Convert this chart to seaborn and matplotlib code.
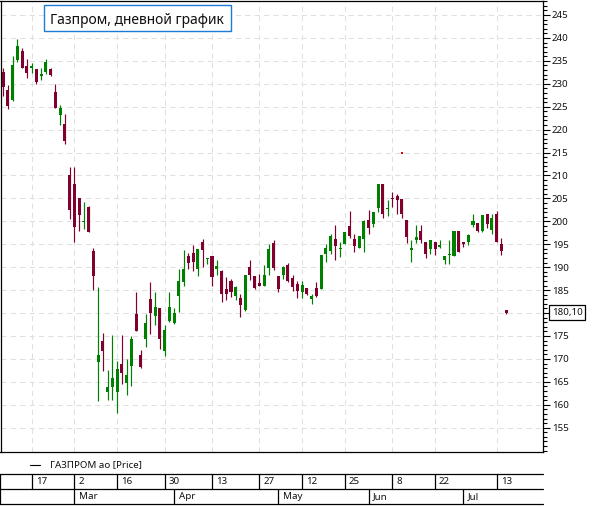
import numpy as np
import pandas as pd
import matplotlib
matplotlib.use("Agg")
import matplotlib.pyplot as plt
import seaborn as sns
from matplotlib.lines import Line2D
from matplotlib.patches import Rectangle
from matplotlib.ticker import MultipleLocator, FuncFormatter

# ---------------- data ----------------
start_date = "2020-02-07"
end_date = "2020-07-15"
holidays = ["2020-02-24", "2020-03-09", "2020-05-01", "2020-05-11",
            "2020-06-12", "2020-06-24", "2020-07-01"]

open_ = [232.6, 228.6, 226.4, 235.2, 237.1, 233.9, 233.5, 233.2, 231.7, 232.5,
         233.2, 228.2, 223.2, 221.2, 210.0, 208.1, 205.0, 199.8, 203.1, 193.5,
         169.3, 174.0, 162.7, 163.8, 162.7, 168.9, 164.7, 168.4, 179.8, 170.9,
         174.3, 183.0, 179.3, 181.1, 171.7, 178.2, 177.8, 183.7, 186.8, 192.4,
         193.1, 189.7, 195.6, 191.8, 192.4, 189.5, 189.15, 185.15, 187.1, 183.8,
         183.2, 180.7, 190.0, 188.0, 186.5, 185.8, 189.8, 195.3, 188.0, 188.2,
         190.5, 187.6, 186.4, 184.7, 185.5, 183.0, 185.5, 185.3, 192.8, 193.5,
         196.07, 193.96, 194.98, 198.9, 196.07, 194.2, 196.07, 200.2, 199.5, 202.9,
         208.1, 202.7, 205.0, 205.5, 204.8, 200.2, 193.7, 195.85, 198.0, 195.4,
         194.0, 195.5, 194.5, 191.6, 192.7, 192.35, 198.0, 195.5, 195.5, 199.1,
         199.7, 197.8, 201.5, 198.2, 201.7, 195.0, 180.6]
high = [233.4, 229.7, 236.0, 239.8, 237.9, 235.3, 234.6, 233.2, 233.5, 235.5,
        233.5, 229.9, 225.3, 223.4, 211.9, 211.9, 205.0, 204.2, 203.35, 194.1,
        185.6, 175.6, 167.5, 175.2, 169.6, 175.2, 170.0, 174.9, 184.5, 172.0,
        179.7, 186.7, 184.7, 181.1, 177.3, 184.5, 181.1, 189.7, 193.7, 193.2,
        194.9, 194.0, 196.1, 192.1, 192.4, 191.5, 189.3, 187.85, 187.5, 186.0,
        184.05, 188.4, 191.5, 188.0, 188.6, 190.4, 195.0, 195.85, 188.0, 190.2,
        190.9, 188.2, 186.9, 186.9, 185.5, 184.2, 186.75, 192.6, 195.0, 197.16,
        199.1, 195.6, 197.6, 202.2, 197.2, 196.9, 200.2, 202.4, 202.0, 208.1,
        208.1, 204.6, 206.3, 205.9, 204.8, 200.2, 195.9, 199.3, 199.1, 195.5,
        195.85, 195.5, 196.0, 192.35, 195.85, 198.0, 198.0, 195.6, 197.3, 201.5,
        199.7, 201.3, 201.7, 201.5, 202.2, 196.4, 180.7]
low = [227.4, 224.5, 226.2, 234.8, 233.5, 231.2, 232.3, 229.9, 230.8, 232.1,
       231.7, 224.8, 221.0, 216.9, 200.6, 195.6, 198.0, 198.3, 197.6, 185.1,
       160.9, 167.3, 161.1, 161.1, 158.1, 164.5, 162.1, 164.0, 176.0, 168.0,
       172.6, 175.4, 177.4, 172.1, 170.6, 178.0, 177.6, 180.2, 185.9, 189.7,
       189.1, 188.1, 190.0, 190.8, 186.0, 188.2, 182.5, 182.75, 183.6, 182.9,
       179.1, 180.4, 187.3, 185.15, 185.8, 185.8, 188.4, 189.3, 184.6, 187.4,
       186.7, 184.9, 183.3, 183.3, 184.0, 181.9, 183.6, 185.15, 191.2, 192.9,
       191.5, 192.2, 194.98, 196.4, 193.3, 194.2, 193.3, 197.3, 198.8, 202.0,
       200.7, 201.2, 203.1, 201.7, 200.7, 195.3, 191.1, 195.3, 195.3, 192.0,
       192.8, 192.7, 194.25, 190.75, 190.75, 192.35, 193.3, 194.4, 194.8, 198.8,
       197.7, 197.7, 198.5, 197.2, 195.5, 192.6, 179.9]
close = [229.2, 225.2, 234.1, 238.2, 233.5, 232.4, 233.9, 230.4, 232.1, 234.7,
         231.9, 224.8, 224.8, 217.5, 202.4, 198.8, 201.4, 200.0, 197.7, 188.0,
         170.9, 171.8, 163.8, 165.9, 167.9, 166.9, 166.4, 174.4, 176.0, 168.2,
         177.9, 180.0, 181.4, 174.3, 176.4, 181.4, 180.1, 187.1, 189.7, 190.9,
         191.1, 194.0, 193.8, 191.95, 187.8, 190.2, 184.2, 184.05, 184.6, 185.6,
         181.65, 188.4, 188.4, 185.5, 186.0, 188.35, 193.9, 189.8, 185.3, 190.0,
         186.9, 185.7, 184.8, 186.2, 184.2, 183.8, 183.7, 192.6, 194.25, 196.7,
         194.6, 194.25, 197.6, 196.7, 194.6, 196.9, 200.0, 198.5, 202.0, 208.1,
         201.5, 203.0, 204.9, 204.6, 201.7, 196.6, 194.25, 196.6, 195.85, 192.9,
         195.85, 194.0, 194.7, 192.35, 192.9, 198.0, 193.3, 195.0, 197.1, 200.0,
         197.9, 201.3, 199.35, 200.8, 195.5, 193.5, 180.1]

day_tick_dates = ["2020-02-17", "2020-03-02", "2020-03-16", "2020-03-30",
                  "2020-04-13", "2020-04-27", "2020-05-12", "2020-05-25",
                  "2020-06-08", "2020-06-22", "2020-07-13"]
month_names = ["Mar", "Apr", "May", "Jun", "Jul"]
title_text = "Газпром, дневной график"
legend_text = "ГАЗПРОМ ао [Price]"
last_price_label = "180,10"
stray_date = "2020-06-10"
stray_price = 215.0

# ---------------- build frame ----------------
dates = pd.bdate_range(start_date, end_date)
dates = dates[~dates.isin(pd.to_datetime(holidays))]
df = pd.DataFrame({"date": dates, "open": open_, "high": high,
                   "low": low, "close": close})
df["idx"] = np.arange(len(df))
df["up"] = df["close"] >= df["open"]
UP, DOWN = "#008000", "#800030"
df["color"] = np.where(df["up"], UP, DOWN)

date_to_idx = {d: i for i, d in enumerate(df["date"])}
day_idx = [date_to_idx[pd.Timestamp(d)] for d in day_tick_dates]
day_lbl = [str(pd.Timestamp(d).day) for d in day_tick_dates]
mstarts = df.groupby(df["date"].dt.to_period("M"))["idx"].min()
month_idx = list(mstarts.values[1:])

# ---------------- figure ----------------
sns.set_theme(style="white")
plt.rcParams["font.family"] = ["Noto Sans", "DejaVu Sans"]

W, H = 593, 507
fig = plt.figure(figsize=(W / 100, H / 100), dpi=100)
fig.patch.set_facecolor("white")

def fx(px):
    return px / W

def fy(py):
    return 1 - py / H

left_px, right_px, top_px, bot_px = 0.5, 543.3, 0.5, 452.3
ax = fig.add_axes([fx(left_px), fy(bot_px), (right_px - left_px) / W,
                   (bot_px - top_px) / H])
ax.set_facecolor("white")

ppx = 4.745
x0px = 3.23
xlim = ((left_px - x0px) / ppx, (right_px - x0px) / ppx)
ppy = 4.586
ylim = (155 - (bot_px - 427.7) / ppy, 245 + (15 - top_px) / ppy)
ax.set_xlim(*xlim)
ax.set_ylim(*ylim)

# grid
grid_kw = dict(color="#e0e0e0", lw=0.75, ls=(0, (5, 4)), zorder=0.5)
for v in range(155, 246, 5):
    ax.axhline(v, **grid_kw)
for i in day_idx:
    ax.axvline(i, **grid_kw)

# candles
body_bottom = np.minimum(df["open"], df["close"])
body_h = np.maximum(np.abs(df["close"] - df["open"]), 0.24)
ax.vlines(df["idx"], df["low"], df["high"], colors=df["color"], lw=0.85, zorder=2)
ax.bar(df["idx"], body_h, bottom=body_bottom, width=0.64, color=df["color"],
       linewidth=0, zorder=3)

# stray tick mark
ax.scatter([date_to_idx[pd.Timestamp(stray_date)]], [stray_price], s=0.6,
           color="#e00000", marker="s", linewidths=0, zorder=3)

# axes styling
for s in ax.spines.values():
    s.set_visible(True)
    s.set_color("black")
    s.set_linewidth(0.9)
ax.set_xticks([])
ax.yaxis.tick_right()
ax.set_yticks(range(155, 246, 5))
ax.yaxis.set_minor_locator(MultipleLocator(1))
ax.yaxis.set_major_formatter(FuncFormatter(lambda v, p: "" if abs(v - 180) < 1e-6 else f"{v:.0f}"))
ax.tick_params(axis="y", which="major", direction="out", length=5, width=0.8,
               color="black", labelsize=7, pad=1.2, labelcolor="#111111",
               right=True, left=False)
ax.tick_params(axis="y", which="minor", direction="out", length=2.9, width=0.8,
               color="black", right=True, left=False)

# last price label
ax.annotate(last_price_label, xy=(1, close[-1]), xycoords=ax.get_yaxis_transform(),
            xytext=(6.2, 0), textcoords="offset points", ha="left", va="center",
            fontsize=7, color="#111111", annotation_clip=False, zorder=10,
            bbox=dict(boxstyle="square,pad=0.28", fc="white", ec="black", lw=0.9))

# title box
fig.add_artist(Rectangle((fx(44.3), fy(30.8)), (230.7 - 44.3) / W, 25.3 / H,
                         transform=fig.transFigure, fc="white", ec="#1e7ad8",
                         lw=1.0, zorder=5))
fig.text(fx(50), fy(24.2), title_text, fontsize=10, ha="left", va="baseline",
         color="#111111", zorder=6)

# legend
fig.add_artist(Line2D([fx(30), fx(39.5)], [fy(465), fy(465)], color="black",
                      lw=0.8, transform=fig.transFigure))
fig.text(fx(50), fy(465), legend_text, fontsize=7, ha="left", va="center",
         color="#111111")

# date table
tax = fig.add_axes([fx(left_px), fy(504.3), (right_px - left_px) / W,
                    (504.3 - 474) / H])
tax.set_xlim(*xlim)
tax.set_ylim(0, 2)
tax.axis("off")
line_kw = dict(color="black", lw=0.9, clip_on=False)
for yv in (0, 1, 2):
    tax.plot([xlim[0], xlim[1]], [yv, yv], **line_kw)
tax.plot([xlim[0], xlim[0]], [0, 2], **line_kw)
for i, lbl in zip(day_idx, day_lbl):
    tax.plot([i, i], [1, 2], **line_kw)
    tax.annotate(lbl, xy=(i, 1.5), xytext=(2.9, 0), textcoords="offset points",
                 ha="left", va="center", fontsize=7, color="#111111")
for i, lbl in zip(month_idx, month_names):
    tax.plot([i, i], [0, 1], **line_kw)
    tax.annotate(lbl, xy=(i, 0.5), xytext=(3.3, 0), textcoords="offset points",
                 ha="left", va="center", fontsize=7, color="#111111")

fig.savefig("out.png", dpi=100, facecolor="white")
